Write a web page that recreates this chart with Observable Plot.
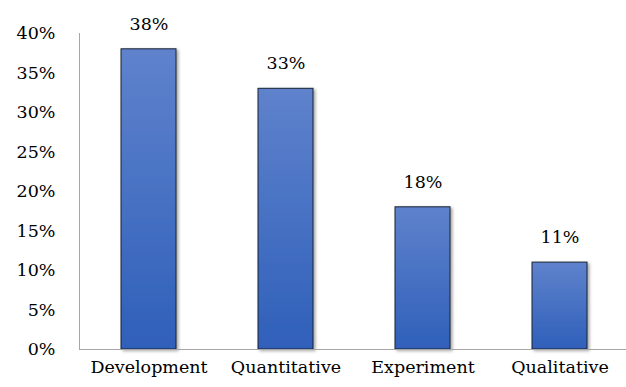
<!DOCTYPE html>
<html><head><meta charset="utf-8">
<script src="https://cdn.jsdelivr.net/npm/d3@7"></script>
<script src="https://cdn.jsdelivr.net/npm/@observablehq/plot@0.6"></script>
<style>
html,body{margin:0;padding:0;background:#fff;}
</style>
</head><body>
<div id="chart"></div>
<script>
const categories = ["Development", "Quantitative", "Experiment", "Qualitative"];
const values = [38, 33, 18, 11];
const yTicks = [0, 5, 10, 15, 20, 25, 30, 35, 40];

const data = categories.map((c, i) => ({category: c, value: values[i]}));
const font = "'DejaVu Serif', serif";

const defs = () => {
  const d = d3.create("svg:defs");
  const g = d.append("linearGradient").attr("id", "barGrad").attr("x1", 0).attr("y1", 0).attr("x2", 0).attr("y2", 1);
  g.append("stop").attr("offset", "0%").attr("stop-color", "#5f82cc");
  g.append("stop").attr("offset", "100%").attr("stop-color", "#2f60ba");
  const f = d.append("filter").attr("id", "barShadow").attr("x", "-20%").attr("y", "-10%").attr("width", "150%").attr("height", "130%");
  f.append("feDropShadow").attr("dx", 2).attr("dy", 1.5).attr("stdDeviation", 1.6).attr("flood-color", "#000").attr("flood-opacity", 0.35);
  return d.node();
};

const leftAxisLine = (index, scales, values, dims) => {
  const x = dims.marginLeft + 0.5;
  return d3.create("svg:line")
    .attr("x1", x).attr("x2", x)
    .attr("y1", scales.y(yTicks[yTicks.length - 1])).attr("y2", scales.y(0))
    .attr("stroke", "#a6a6a6").attr("stroke-width", 1).node();
};

const chart = Plot.plot({
  width: 626,
  height: 387,
  marginLeft: 79,
  marginRight: -3,
  marginTop: 33,
  marginBottom: 38,
  style: {fontFamily: font, fontSize: "17.5px", color: "#000", background: "#fff", overflow: "visible"},
  x: {domain: categories, paddingInner: 0.6, paddingOuter: 0.3, label: null, tickSize: 0, tickPadding: 11},
  y: {domain: [0, 40], ticks: yTicks, tickFormat: d => d + "%", label: null, tickSize: 0, tickPadding: 24},
  marks: [
    defs,
    Plot.barY(data, {x: "category", y: "value", fill: "url(#barGrad)", stroke: "#1b2233", strokeWidth: 1}),
    Plot.ruleY([0], {stroke: "#a6a6a6", strokeWidth: 1.2}),
    leftAxisLine,
    Plot.text(data, {x: "category", y: "value", text: d => d.value + "%", dy: -25, fontSize: 17.5, fill: "#000"})
  ]
});
chart.querySelectorAll('g[aria-label="bar"]').forEach(g => g.setAttribute("filter", "url(#barShadow)"));
chart.querySelectorAll('g[aria-label="y-axis tick label"] text, g[aria-label="x-axis tick label"] text').forEach(t => t.setAttribute("fill", "#000"));
document.getElementById("chart").appendChild(chart);
</script>
</body></html>
